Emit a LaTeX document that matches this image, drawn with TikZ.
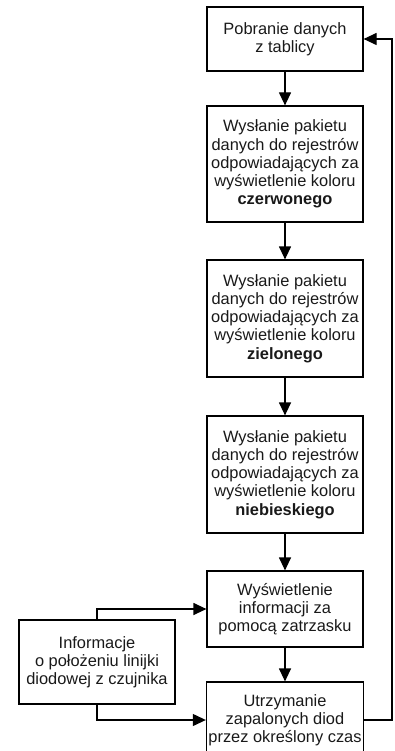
\documentclass[tikz,border=0pt]{standalone}
\usepackage{fontspec}
\setmainfont{Liberation Sans}
\usepackage{tikz}
\usetikzlibrary{positioning, calc, arrows.meta}

\begin{document}
\begin{tikzpicture}[x=1pt, y=-1pt]
	\tikzstyle{stepbox}=[draw=black, line width=1.2pt, minimum width=156pt, inner sep=2pt, align=center, text=black!90, font=\fontsize{16.4}{18.2}\selectfont]
	\tikzstyle{flow}=[line width=1.2pt, -{Triangle[length=13pt, width=12pt]}]
	
	\useasboundingbox (0,0) rectangle (395,751);
	
	\node (fetch) at (285,39) [stepbox, minimum height=64pt] {Pobranie danych\\z tablicy};
	\node (red) at (285,164) [stepbox, minimum height=116pt] {Wysłanie pakietu\\danych do rejestrów\\odpowiadających za\\wyświetlenie koloru\\\textbf{czerwonego}};
	\node (green) at (285,318.5) [stepbox, minimum height=117pt] {Wysłanie pakietu\\danych do rejestrów\\odpowiadających za\\wyświetlenie koloru\\\textbf{zielonego}};
	\node (blue) at (285,474.5) [stepbox, minimum height=117pt] {Wysłanie pakietu\\danych do rejestrów\\odpowiadających za\\wyświetlenie koloru\\\textbf{niebieskiego}};
	\node (latch) at (285,609) [stepbox, minimum height=76pt] {Wyświetlenie\\informacji za\\pomocą zatrzasku};
	\node (hold) at (285,720) [stepbox, minimum height=76pt] {Utrzymanie\\zapalonych diod\\przez określony czas};
	
	\node (sensor) at (97,662) [stepbox, minimum height=84pt] {Informacje\\o położeniu linijki\\diodowej z czujnika};
	
	\draw [flow] (fetch) -- (red);
	\draw [flow] (red) -- (green);
	\draw [flow] (green) -- (blue);
	\draw [flow] (blue) -- (latch);
	\draw [flow] (latch) -- (hold);
	
	\draw [flow] (sensor.north) |- (latch.west);
	\draw [flow] (sensor.south) |- (hold.west);
	
	%% powrot do poczatku
	\coordinate (back) at (392,39);
	\draw [flow] (hold.east) -| (back) -- (fetch.east);
\end{tikzpicture}
\end{document}
